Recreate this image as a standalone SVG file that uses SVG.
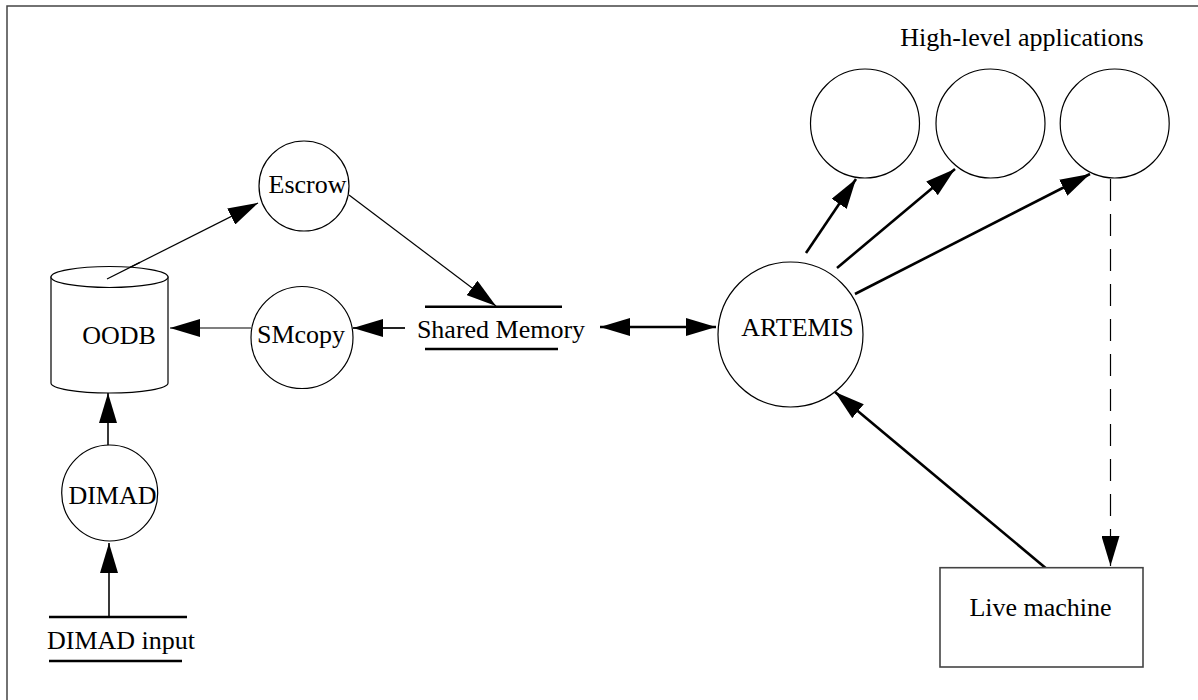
<svg xmlns="http://www.w3.org/2000/svg" width="1198" height="700" viewBox="0 0 1198 700">
<style>
  text { font-family: "Liberation Serif", "Times New Roman", serif; font-size: 26px; fill: #000; }
  .node { fill: #fff; stroke: #000; stroke-width: 1.2; }
  .thin { stroke: #000; stroke-width: 1.2; fill: none; }
  .med { stroke: #222; stroke-width: 1.8; fill: none; }
  .thick { stroke: #000; stroke-width: 2.6; fill: none; }
  .bar { stroke: #000; stroke-width: 2.6; }
  .dash { stroke: #000; stroke-width: 1.2; stroke-dasharray: 22 13; fill: none; }
</style>
<defs>
  <marker id="ah" markerUnits="userSpaceOnUse" markerWidth="30" markerHeight="18" refX="30" refY="9" orient="auto-start-reverse">
    <path d="M0,0 L30,9 L0,18 Z" fill="#000"/>
  </marker>
</defs>
<rect width="1198" height="700" fill="#fff"/>
<rect x="7" y="6" width="1300" height="800" fill="none" stroke="#444" stroke-width="1.5"/>

<g id="connectors">
  <line class="thin" x1="107" y1="279" x2="258" y2="203" marker-end="url(#ah)"/>
  <line class="thin" x1="349" y1="195" x2="496" y2="306" marker-end="url(#ah)"/>
  <line class="med" x1="405" y1="328" x2="353" y2="328" marker-end="url(#ah)"/>
  <line class="thin" x1="251" y1="328" x2="170" y2="328" marker-end="url(#ah)"/>
  <line class="med" x1="108" y1="445" x2="108" y2="393" marker-end="url(#ah)"/>
  <line class="med" x1="109" y1="617" x2="109" y2="543" marker-end="url(#ah)"/>
  <line class="thick" x1="600" y1="327" x2="716" y2="327" marker-start="url(#ah)" marker-end="url(#ah)"/>
  <line class="thick" x1="806" y1="253" x2="856" y2="179" marker-end="url(#ah)"/>
  <line class="thick" x1="837" y1="268" x2="955" y2="169" marker-end="url(#ah)"/>
  <line class="thick" x1="855" y1="294" x2="1090" y2="174" marker-end="url(#ah)"/>
  <line class="thick" x1="1048" y1="570" x2="835" y2="392" marker-end="url(#ah)"/>
  <line class="dash" x1="1110.5" y1="179" x2="1110.5" y2="566" marker-end="url(#ah)"/>
</g>

<g id="oodb">
  <path class="node" d="M51,277 L51,383 A58.5,10 0 0 0 168,383 L168,277 Z"/>
  <ellipse class="node" cx="109.5" cy="277" rx="58.5" ry="10.5"/>
  <line class="thin" x1="107" y1="279" x2="140" y2="262.4"/>
  <text x="119" y="344" text-anchor="middle">OODB</text>
</g>

<g id="escrow">
  <circle class="node" cx="304" cy="186" r="45"/>
  <text x="307.5" y="193" text-anchor="middle">Escrow</text>
</g>

<g id="smcopy">
  <circle class="node" cx="302" cy="337.5" r="51"/>
  <text x="301" y="343" text-anchor="middle">SMcopy</text>
</g>

<g id="shared-memory">
  <line class="bar" x1="425" y1="306.7" x2="562" y2="306.7"/>
  <line class="bar" x1="425" y1="349" x2="558" y2="349"/>
  <text x="501" y="338" text-anchor="middle">Shared Memory</text>
</g>

<g id="dimad">
  <circle class="node" cx="109.7" cy="493" r="48"/>
  <text x="112.5" y="504" text-anchor="middle">DIMAD</text>
</g>

<g id="dimad-input">
  <line class="bar" x1="49" y1="617" x2="187" y2="617"/>
  <line class="bar" x1="49" y1="661" x2="182" y2="661"/>
  <text x="121" y="649" text-anchor="middle">DIMAD input</text>
</g>

<g id="artemis">
  <circle class="node" cx="790.5" cy="334.5" r="72.5"/>
  <text x="797.5" y="336" text-anchor="middle">ARTEMIS</text>
</g>

<g id="high-level-label">
  <text x="1022" y="46" text-anchor="middle">High-level applications</text>
</g>
<g id="app1">
  <circle class="node" cx="865" cy="123.5" r="54.5"/>
</g>
<g id="app2">
  <circle class="node" cx="990.5" cy="123.5" r="54.5"/>
</g>
<g id="app3">
  <circle class="node" cx="1114.7" cy="123.5" r="54.5"/>
</g>

<g id="live-machine">
  <rect x="940" y="567.7" width="203" height="99.3" fill="#fff" stroke="#444" stroke-width="1.6"/>
  <text x="1040.5" y="616" text-anchor="middle">Live machine</text>
</g>
</svg>
